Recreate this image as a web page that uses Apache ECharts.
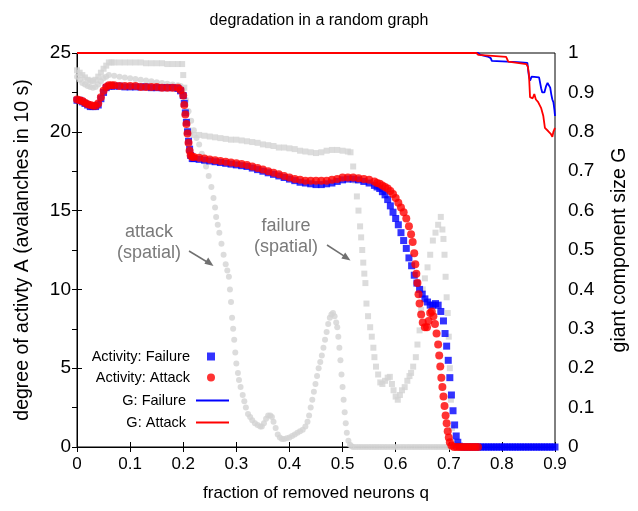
<!DOCTYPE html>
<html>
<head>
<meta charset="utf-8">
<script src="https://cdn.jsdelivr.net/npm/echarts@6/dist/echarts.min.js"></script>
<style>html,body{margin:0;padding:0;background:#fff}#c{width:638px;height:511px}</style>
</head>
<body>
<div id="c"></div>
<script>
// ---------- data ----------
const xTickLabels = ['0','0.1','0.2','0.3','0.4','0.5','0.6','0.7','0.8','0.9'];
const yTickLabels = ['0','5','10','15','20','25'];
const y2TickLabels = ['0','0.1','0.2','0.3','0.4','0.5','0.6','0.7','0.8','0.9','1'];

const seriesNames = ['Activity: Failure','Activity: Attack','G: Failure','G: Attack'];

const activityFailure = [
[0,22.0],[0.005,22.0],[0.01,21.9],[0.015,21.8],[0.02,21.7],[0.025,21.6],[0.03,21.6],[0.035,21.6],[0.04,21.7],[0.045,22.1],
[0.05,22.5],[0.055,22.8],[0.06,22.9],[0.065,22.9],[0.07,22.9],[0.08,22.9],[0.09,22.85],[0.1,22.85],[0.11,22.85],[0.12,22.85],
[0.13,22.85],[0.14,22.8],[0.15,22.8],[0.16,22.8],[0.17,22.8],[0.18,22.8],[0.19,22.75],[0.195,22.6],[0.2,22.3],[0.202,21.8],
[0.204,21.2],[0.206,20.6],[0.208,20.0],[0.21,19.4],[0.212,18.9],[0.214,18.5],[0.217,18.3],[0.22,18.3],[0.23,18.25],[0.24,18.2],
[0.25,18.15],[0.26,18.1],[0.27,18.05],[0.28,18.0],[0.29,17.95],[0.3,17.9],[0.31,17.85],[0.32,17.8],[0.33,17.7],[0.34,17.6],
[0.35,17.5],[0.36,17.4],[0.37,17.3],[0.38,17.2],[0.39,17.1],[0.4,17.0],[0.41,16.9],[0.42,16.8],[0.43,16.75],[0.44,16.7],
[0.45,16.65],[0.46,16.65],[0.47,16.7],[0.48,16.75],[0.49,16.85],[0.5,16.95],[0.51,17.0],[0.52,17.0],[0.53,16.95],[0.54,16.85],
[0.55,16.75],[0.56,16.6],[0.565,16.5],[0.57,16.4],[0.575,16.2],[0.58,16.0],[0.585,15.7],[0.59,15.3],[0.595,14.9],[0.6,14.5],
[0.605,14.1],[0.61,13.6],[0.615,13.1],[0.62,12.6],[0.625,12.0],[0.63,11.5],[0.635,10.9],[0.64,10.4],[0.645,10.0],[0.65,9.7],
[0.655,9.4],[0.66,9.2],[0.665,9.0],[0.67,9.0],[0.675,9.1],[0.68,9.0],[0.685,8.6],[0.69,8.0],[0.693,7.2],[0.696,6.4],
[0.699,5.5],[0.702,4.4],[0.705,3.3],[0.708,2.3],[0.711,1.4],[0.714,0.7],[0.717,0.3],[0.72,0.05],[0.725,0],[0.73,0],
[0.735,0],[0.74,0],[0.745,0],[0.75,0],[0.755,0],[0.76,0],[0.765,0],[0.77,0],[0.775,0],[0.78,0],[0.785,0],[0.79,0],
[0.795,0],[0.8,0],[0.805,0],[0.81,0],[0.815,0],[0.82,0],[0.825,0],[0.83,0],[0.835,0],[0.84,0],[0.845,0],[0.85,0],
[0.855,0],[0.86,0],[0.865,0],[0.87,0],[0.875,0],[0.88,0],[0.885,0],[0.89,0],[0.895,0],[0.9,0]
];

const activityAttack = [
[0,22.05],[0.005,22.0],[0.01,21.95],[0.015,21.85],[0.02,21.75],[0.025,21.7],[0.03,21.65],[0.035,21.65],[0.04,21.8],[0.045,22.2],
[0.05,22.6],[0.055,22.85],[0.06,22.95],[0.065,22.95],[0.07,22.95],[0.08,22.9],[0.09,22.9],[0.1,22.9],[0.11,22.9],[0.12,22.85],
[0.13,22.85],[0.14,22.85],[0.15,22.85],[0.16,22.8],[0.17,22.8],[0.18,22.8],[0.19,22.8],[0.195,22.65],[0.2,22.3],[0.202,21.7],
[0.204,21.1],[0.206,20.5],[0.208,19.9],[0.21,19.3],[0.212,18.8],[0.214,18.5],[0.217,18.4],[0.22,18.4],[0.23,18.35],[0.24,18.3],
[0.25,18.25],[0.26,18.2],[0.27,18.15],[0.28,18.1],[0.29,18.05],[0.3,18.0],[0.31,17.95],[0.32,17.9],[0.33,17.8],[0.34,17.7],
[0.35,17.6],[0.36,17.5],[0.37,17.4],[0.38,17.3],[0.39,17.2],[0.4,17.1],[0.41,17.0],[0.42,16.95],[0.43,16.9],[0.44,16.9],
[0.45,16.9],[0.46,16.9],[0.47,16.9],[0.48,16.95],[0.49,17.0],[0.5,17.1],[0.51,17.1],[0.52,17.1],[0.53,17.05],[0.54,17.0],
[0.55,16.95],[0.56,16.85],[0.565,16.75],[0.57,16.7],[0.575,16.6],[0.58,16.5],[0.585,16.4],[0.59,16.25],[0.595,16.05],[0.6,15.8],
[0.605,15.5],[0.61,15.2],[0.615,14.9],[0.62,14.5],[0.625,14.0],[0.629,13.5],[0.632,13.0],[0.635,12.3],[0.637,11.6],[0.639,11.0],
[0.641,10.4],[0.643,9.7],[0.645,9.1],[0.648,8.4],[0.651,7.9],[0.655,7.6],[0.659,7.6],[0.662,8.0],[0.665,8.5],[0.668,8.6],
[0.671,8.3],[0.674,7.8],[0.677,7.2],[0.68,6.5],[0.682,5.8],[0.684,5.1],[0.686,4.4],[0.688,3.8],[0.69,3.2],[0.692,2.6],
[0.694,2.0],[0.696,1.5],[0.698,1.0],[0.7,0.6],[0.702,0.3],[0.705,0.1],[0.71,0],[0.715,0],[0.72,0],[0.725,0],
[0.73,0],[0.735,0],[0.74,0],[0.745,0],[0.75,0],[0.755,0]
];

const gFailure = [
[0,1],[0.755,1],[0.76,0.995],[0.775,0.99],[0.779,0.987],[0.781,0.98],[0.81,0.978],[0.829,0.977],[0.848,0.975],[0.85,0.95],
[0.851,0.94],[0.853,0.93],[0.856,0.94],[0.87,0.938],[0.872,0.937],[0.874,0.91],[0.876,0.9],[0.88,0.9],[0.883,0.915],[0.886,0.924],
[0.889,0.924],[0.891,0.912],[0.893,0.895],[0.895,0.882],[0.897,0.875],[0.899,0.855],[0.9,0.84]
];

const gAttack = [
[0,1],[0.752,1],[0.756,0.995],[0.808,0.99],[0.812,0.978],[0.846,0.972],[0.849,0.965],[0.851,0.945],[0.853,0.888],[0.858,0.885],
[0.861,0.896],[0.864,0.882],[0.868,0.876],[0.874,0.86],[0.878,0.84],[0.881,0.81],[0.887,0.802],[0.892,0.795],[0.895,0.787],[0.897,0.8],
[0.9,0.81]
];

const failureSpatial = [
[0,23.9],[0.005,23.75],[0.01,23.6],[0.015,23.45],[0.02,23.3],[0.025,23.25],[0.03,23.2],[0.035,23.3],[0.04,23.5],[0.045,23.75],
[0.05,24.0],[0.055,24.2],[0.06,24.4],[0.065,24.4],[0.07,24.4],[0.08,24.4],[0.09,24.4],[0.1,24.4],[0.11,24.4],[0.12,24.4],
[0.13,24.35],[0.14,24.35],[0.15,24.35],[0.16,24.35],[0.17,24.3],[0.18,24.3],[0.19,24.3],[0.198,24.3],[0.2,23.6],[0.202,22.8],
[0.204,22.0],[0.206,21.3],[0.208,20.6],[0.21,20.1],[0.213,19.9],[0.22,19.8],[0.23,19.8],[0.24,19.75],[0.25,19.7],[0.26,19.65],
[0.27,19.6],[0.28,19.55],[0.29,19.5],[0.3,19.5],[0.31,19.45],[0.32,19.4],[0.33,19.35],[0.34,19.3],[0.35,19.2],[0.36,19.15],
[0.37,19.1],[0.38,19.0],[0.39,19.0],[0.4,18.95],[0.41,18.9],[0.42,18.8],[0.43,18.75],[0.44,18.7],[0.45,18.65],[0.46,18.7],
[0.47,18.8],[0.48,18.85],[0.49,18.85],[0.5,18.8],[0.51,18.75],[0.515,18.7],[0.52,17.8],[0.524,16.9],[0.527,15.9],[0.53,15.0],
[0.533,14.0],[0.535,13.3],[0.537,12.5],[0.539,11.7],[0.541,11.0],[0.543,10.4],[0.545,9.1],[0.548,8.3],[0.552,7.6],[0.555,7.0],
[0.558,6.3],[0.56,5.7],[0.563,5.1],[0.567,4.6],[0.571,4.1],[0.575,4.0],[0.58,4.2],[0.585,4.4],[0.589,4.45],[0.593,4.0],
[0.596,3.6],[0.6,3.2],[0.604,3.0],[0.608,3.3],[0.612,3.6],[0.617,3.8],[0.622,4.2],[0.626,4.5],[0.629,4.7],[0.633,5.1],
[0.638,5.7],[0.641,6.5],[0.645,7.4],[0.648,8.7],[0.651,10.0],[0.655,10.7],[0.66,11.4],[0.665,12.2],[0.67,13.1],[0.675,13.6],
[0.68,14.1],[0.685,14.6],[0.688,13.8],[0.69,13.2],[0.692,12.2],[0.694,10.8],[0.696,9.5],[0.698,8.5],[0.7,7.0],[0.702,5.0],
[0.704,3.0],[0.706,1.2],[0.708,0.2],[0.71,0]
];

const attackSpatial = [
[0,23.5],[0.005,23.3],[0.01,23.1],[0.015,23.0],[0.02,22.9],[0.025,22.85],[0.03,22.8],[0.035,22.85],[0.04,23.0],[0.045,23.2],
[0.05,23.4],[0.055,23.5],[0.06,23.6],[0.07,23.55],[0.08,23.5],[0.09,23.45],[0.1,23.4],[0.11,23.35],[0.12,23.3],[0.13,23.25],
[0.14,23.2],[0.15,23.15],[0.16,23.1],[0.17,23.05],[0.18,23.0],[0.19,22.95],[0.195,22.9],[0.2,22.7],[0.205,22.0],[0.21,21.3],
[0.215,20.7],[0.22,20.1],[0.225,19.6],[0.23,19.2],[0.235,18.6],[0.24,18.1],[0.243,17.8],[0.248,17.2],[0.253,16.5],[0.257,15.8],
[0.26,15.2],[0.262,14.6],[0.265,14.1],[0.268,13.6],[0.272,12.9],[0.276,12.2],[0.28,11.6],[0.283,11.2],[0.286,10.8],[0.288,10.0],
[0.29,9.2],[0.292,8.2],[0.294,7.5],[0.296,6.8],[0.298,6.0],[0.3,5.3],[0.303,4.7],[0.305,4.25],[0.308,3.8],[0.312,3.3],
[0.315,2.9],[0.318,2.5],[0.322,2.1],[0.326,1.9],[0.33,1.7],[0.335,1.5],[0.34,1.4],[0.345,1.3],[0.348,1.3],[0.352,1.5],
[0.356,1.8],[0.36,2.0],[0.364,2.0],[0.367,1.9],[0.37,1.6],[0.374,1.2],[0.378,0.8],[0.382,0.6],[0.386,0.5],[0.39,0.5],
[0.395,0.55],[0.4,0.6],[0.405,0.7],[0.41,0.8],[0.415,0.9],[0.42,1.0],[0.425,1.1],[0.43,1.3],[0.434,1.6],[0.437,2.0],
[0.44,2.5],[0.443,3.0],[0.446,3.5],[0.449,4.0],[0.452,4.5],[0.455,5.0],[0.458,5.4],[0.461,5.8],[0.464,6.3],[0.467,6.8],
[0.47,7.3],[0.473,7.8],[0.476,8.2],[0.479,8.4],[0.482,8.5],[0.485,8.3],[0.488,7.9],[0.49,7.6],[0.492,7.0],[0.494,6.3],
[0.496,5.5],[0.498,4.6],[0.5,3.8],[0.502,3.0],[0.504,2.2],[0.506,1.5],[0.508,0.9],[0.511,0.4],[0.514,0.15],[0.517,0.05],
[0.52,0],[0.525,0],[0.53,0],[0.535,0],[0.54,0],[0.545,0],[0.55,0],[0.555,0],[0.56,0],[0.565,0],[0.57,0],[0.575,0],
[0.58,0],[0.585,0],[0.59,0],[0.595,0],[0.6,0],[0.605,0],[0.61,0],[0.615,0],[0.62,0],[0.625,0],[0.63,0],[0.635,0],
[0.64,0],[0.645,0],[0.65,0],[0.655,0],[0.66,0],[0.665,0],[0.67,0],[0.675,0],[0.68,0],[0.685,0],[0.69,0],[0.695,0],[0.7,0]
];

// ---------- chart ----------
const FONT = 'Liberation Sans, Arial, sans-serif';
const chart = echarts.init(document.getElementById('c'), null, {renderer:'canvas'});
const axisCommon = {
  axisLine:{show:true, lineStyle:{color:'#000', width:1}},
  axisTick:{show:true, inside:true, length:5, lineStyle:{color:'#000'}},
  splitLine:{show:false}
};
function legendBox(name, right, top, w, h, icon, pad) {
  return {
    data:[{name:name, icon:icon}], right:right, top:top, itemWidth:w, itemHeight:h,
    orient:'vertical', align:'right', padding:0, selectedMode:false,
    textStyle:{fontSize:14.5, color:'#000', fontFamily:FONT, padding:[0,pad,0,0]}
  };
}
const option = {
  animation:false,
  textStyle:{fontFamily:FONT},
  title:{text:'degradation in a random graph', left:'center', top:8,
    textStyle:{fontSize:16, fontWeight:'normal', color:'#000', fontFamily:FONT}},
  grid:{left:77, right:80, top:53, bottom:64, show:true, borderColor:'#000', borderWidth:1, backgroundColor:'transparent'},
  xAxis:[
    Object.assign({type:'value', min:0, max:0.9, interval:0.1, position:'bottom',
      name:'fraction of removed neurons q', nameLocation:'middle', nameGap:38,
      nameTextStyle:{fontSize:17, color:'#000', fontFamily:FONT},
      axisLabel:{fontSize:17, color:'#000', margin:9, formatter:(v)=>xTickLabels[Math.round(v*10)]}}, axisCommon),
    Object.assign({type:'value', min:0, max:0.9, interval:0.1, position:'top', axisLabel:{show:false}}, axisCommon)
  ],
  yAxis:[
    Object.assign({type:'value', min:0, max:25, interval:5, position:'left',
      name:'degree of activty A (avalanches in 10 s)', nameLocation:'middle', nameGap:44,
      nameTextStyle:{fontSize:19.5, color:'#000', fontFamily:FONT},
      axisLabel:{fontSize:19, color:'#000', margin:6, formatter:(v)=>yTickLabels[Math.round(v/5)]}}, axisCommon),
    Object.assign({type:'value', min:0, max:1, interval:0.1, position:'right',
      name:'giant component size G', nameLocation:'middle', nameGap:55,
      nameTextStyle:{fontSize:19.5, color:'#000', fontFamily:FONT},
      axisLabel:{fontSize:19, color:'#000', margin:13, formatter:(v)=>y2TickLabels[Math.round(v*10)]}}, axisCommon)
  ],
  legend:[
    legendBox(seriesNames[0], 423, 349, 8, 8, 'rect', 12),
    legendBox(seriesNames[1], 423, 370, 8, 8, 'circle', 12),
    legendBox(seriesNames[2], 409, 393, 33, 2, 'rect', 5),
    legendBox(seriesNames[3], 409, 415, 33, 2, 'rect', 5)
  ],
  series:[
    {name:'failure (spatial)', type:'scatter', xAxisIndex:0, yAxisIndex:0, data:failureSpatial,
      symbol:'rect', symbolSize:6, itemStyle:{color:'#d3d3d3'}, z:1, silent:true},
    {name:'attack (spatial)', type:'scatter', xAxisIndex:0, yAxisIndex:0, data:attackSpatial,
      symbol:'circle', symbolSize:6, itemStyle:{color:'#d3d3d3'}, z:1, silent:true},
    {name:seriesNames[0], type:'scatter', xAxisIndex:0, yAxisIndex:0, data:activityFailure,
      symbol:'rect', symbolSize:7, itemStyle:{color:'#0000ff'}, z:2},
    {name:seriesNames[1], type:'scatter', xAxisIndex:0, yAxisIndex:0, data:activityAttack,
      symbol:'circle', symbolSize:8, itemStyle:{color:'#ff0000'}, z:3},
    {name:seriesNames[2], type:'line', xAxisIndex:0, yAxisIndex:1, data:gFailure, symbol:'none',
      lineStyle:{color:'#0000ff', width:1.8}, itemStyle:{color:'#0000ff'}, z:4},
    {name:seriesNames[3], type:'line', xAxisIndex:0, yAxisIndex:1, data:gAttack, symbol:'none',
      lineStyle:{color:'#ff0000', width:1.8}, itemStyle:{color:'#ff0000'}, z:5}
  ],
  graphic:[
    {type:'text', x:149, y:243, z:10, style:{text:'attack\n(spatial)', x:0, y:0, align:'center', verticalAlign:'middle',
      fontSize:18, lineHeight:21, fill:'#7a7a7a', fontFamily:FONT}},
    {type:'text', x:286, y:237, z:10, style:{text:'failure\n(spatial)', x:0, y:0, align:'center', verticalAlign:'middle',
      fontSize:18, lineHeight:21, fill:'#7a7a7a', fontFamily:FONT}},
    {type:'line', z:10, shape:{x1:189, y1:251, x2:208, y2:262.5}, style:{stroke:'#707070', lineWidth:1.5}},
    {type:'polygon', z:10, shape:{points:[[213.5,266],[204.4,263.8],[208.2,257.6]]}, style:{fill:'#707070'}},
    {type:'line', z:10, shape:{x1:327, y1:245, x2:345, y2:256.7}, style:{stroke:'#707070', lineWidth:1.5}},
    {type:'polygon', z:10, shape:{points:[[350.5,260.5],[341.4,258.5],[345.2,252.5]]}, style:{fill:'#707070'}}
  ]
};
chart.setOption(option);
</script>
</body>
</html>
